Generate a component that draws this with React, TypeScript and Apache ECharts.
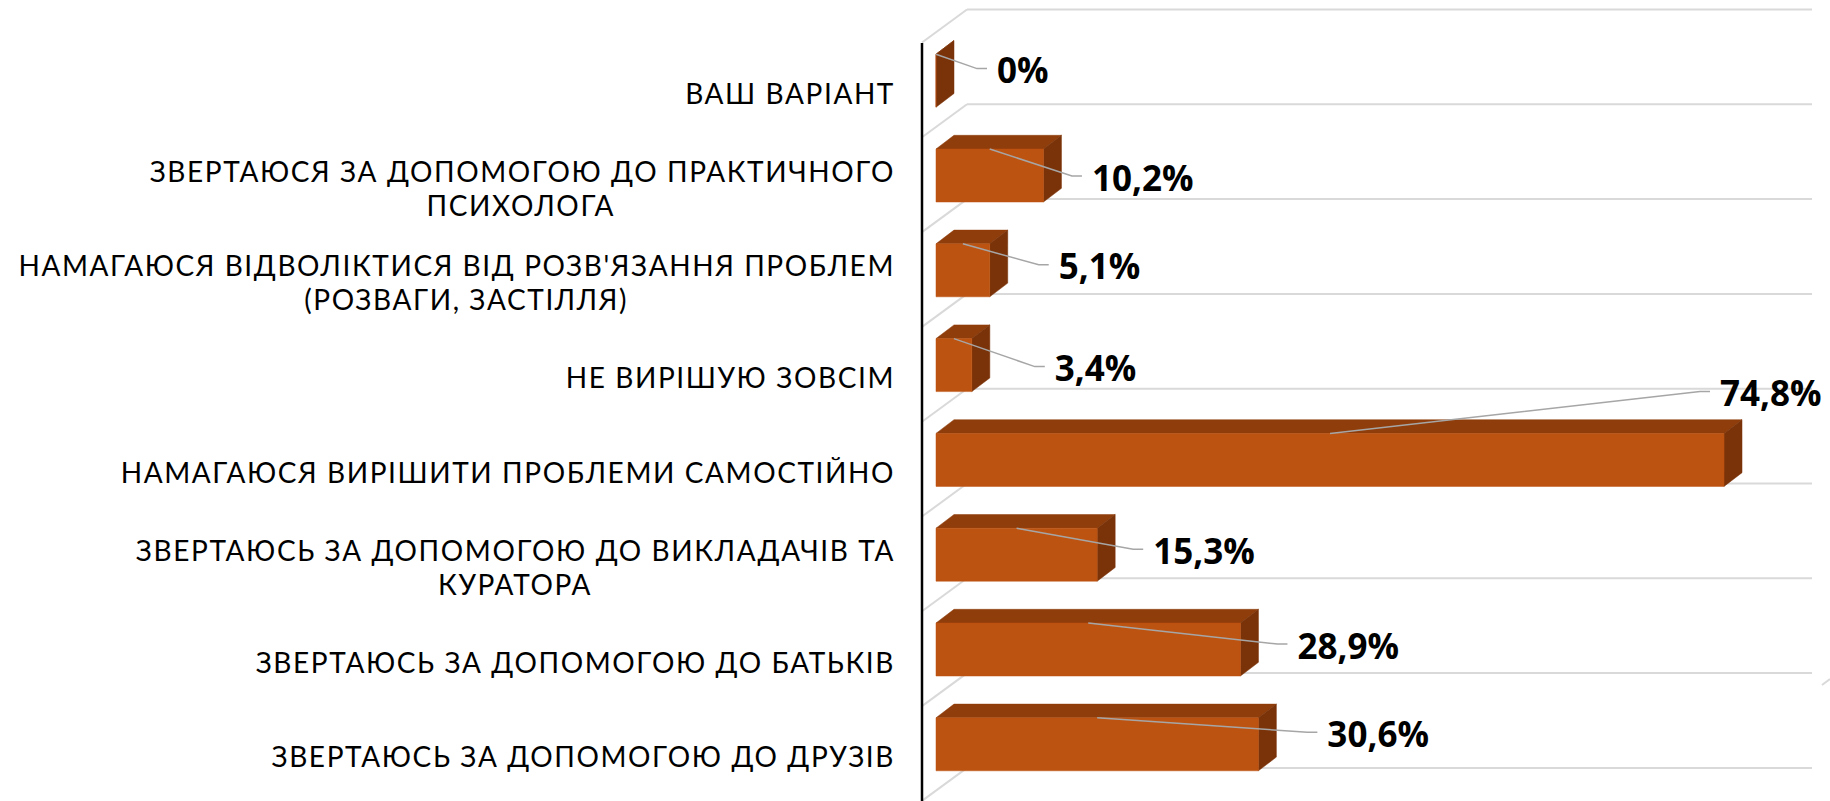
import React, { useEffect, useRef } from "react";
import * as echarts from "echarts";

const categories = [
  "ВАШ ВАРІАНТ",
  "ЗВЕРТАЮСЯ ЗА ДОПОМОГОЮ ДО ПРАКТИЧНОГО\nПСИХОЛОГА",
  "НАМАГАЮСЯ ВІДВОЛІКТИСЯ ВІД РОЗВ'ЯЗАННЯ ПРОБЛЕМ\n(РОЗВАГИ, ЗАСТІЛЛЯ)",
  "НЕ ВИРІШУЮ ЗОВСІМ",
  "НАМАГАЮСЯ ВИРІШИТИ ПРОБЛЕМИ САМОСТІЙНО",
  "ЗВЕРТАЮСЬ ЗА ДОПОМОГОЮ ДО ВИКЛАДАЧІВ ТА\nКУРАТОРА",
  "ЗВЕРТАЮСЬ ЗА ДОПОМОГОЮ ДО БАТЬКІВ",
  "ЗВЕРТАЮСЬ ЗА ДОПОМОГОЮ ДО ДРУЗІВ",
];
const values = [0, 10.2, 5.1, 3.4, 74.8, 15.3, 28.9, 30.6];
// second-line inset of each wrapped category label, so the line sits centred under the first
const secondLineInset = [0, 280, 267, 0, 0, 303, 0, 0];
// leader-line elbow relative to the bar's right end (x) and front-top edge (y)
const leaderElbow = [
  [51, 14.4], [38.5, 27], [59, 21], [73, 28], [-14, -42], [46, 21], [47, 21], [59, 14.5],
];

const FRONT = "#BD5311";
const TOP = "#8F3D0B";
const SIDE = "#7A3208";
const WALL = "#D9D9D9";
const DX = 18;
const DY = 13.7;
const BAR_H = 53;
const BAR_SHIFT = 12; // bars sit above the band centre, like a 3D chart's floor

const formatValue = (v: number) => String(v).replace(".", ",") + "%";

const renderWall = (params: any, api: any) => {
  const [x0, cy] = api.coord([0, params.dataIndex]);
  const xA = x0 - 14;
  const xB = x0 + 31;
  const xEnd = x0 + 876;
  const band = api.size([0, 1])[1];
  const rows = params.dataIndex === categories.length - 1 ? [cy, cy + band] : [cy];
  const line = (x1: number, y1: number, x2: number, y2: number, stroke: string, lineWidth: number) => ({
    type: "line",
    shape: { x1, y1, x2, y2 },
    style: { stroke, lineWidth },
  });
  const children: any[] = [];
  rows.forEach((c) => {
    children.push(line(xA, c - 50.2, xB, c - 83.2, WALL, 2));
    children.push(line(xB, c - 83.2, xEnd, c - 83.2, WALL, 2));
  });
  return { type: "group", children };
};

const renderBar = (params: any, api: any) => {
  const v = api.value(0);
  const idx = params.dataIndex;
  const [x0, cy] = api.coord([0, idx]);
  const [x1] = api.coord([v, idx]);
  const yTop = cy - BAR_SHIFT - BAR_H / 2;
  const yBot = yTop + BAR_H;
  const xMid = (x0 + x1) / 2;
  const [ex, ey] = leaderElbow[idx];
  const elbowX = x1 + ex;
  const elbowY = yTop + ey;
  const poly = (points: number[][], fill: string) => ({
    type: "polygon",
    shape: { points },
    style: { fill, stroke: fill, lineWidth: 0.5 },
  });
  return {
    type: "group",
    children: [
      poly([[x0, yTop], [x0 + DX, yTop - DY], [x1 + DX, yTop - DY], [x1, yTop]], TOP),
      poly([[x1, yTop], [x1 + DX, yTop - DY], [x1 + DX, yBot - DY], [x1, yBot]], SIDE),
      poly([[x0, yTop], [x1, yTop], [x1, yBot], [x0, yBot]], FRONT),
      {
        type: "polyline",
        shape: { points: [[xMid, yTop], [elbowX - 10, elbowY], [elbowX, elbowY]] },
        style: { stroke: "#A6A6A6", lineWidth: 1.5, fill: "none" },
      },
      {
        type: "text",
        x: elbowX + 10,
        y: elbowY + 1,
        style: {
          text: formatValue(v),
          fill: "#000000",
          font: 'bold 35px "Open Sans"',
          textAlign: "left",
          textVerticalAlign: "middle",
        },
      },
    ],
  };
};

export default function App() {
  const ref = useRef<HTMLDivElement>(null);
  useEffect(() => {
    const chart = echarts.init(ref.current!, undefined, { renderer: "svg" });
    const rows = values.map((v, i) => [v, i]);
    const rich: any = {
      a: { fontFamily: "Lato", fontSize: 28, color: "#000", lineHeight: 34, align: "right" },
    };
    secondLineInset.forEach((inset, i) => {
      if (inset) {
        rich["b" + i] = { ...rich.a, padding: [0, inset, 0, 0] };
      }
    });
    chart.setOption({
      animation: false,
      backgroundColor: "#FFFFFF",
      grid: { left: 936, top: 45.3, width: 842.8, height: 758.4, containLabel: false, outerBoundsMode: "none" },
      xAxis: { type: "value", min: 0, max: 80, show: false },
      yAxis: {
        type: "category",
        inverse: true,
        data: categories,
        axisLine: { show: false },
        axisTick: { show: false },
        splitLine: { show: false },
        axisLabel: {
          interval: 0,
          margin: 41,
          align: "right",
          color: "#000",
          formatter: (value: string, i: number) => {
            const [first, second] = value.split("\n");
            return second ? `{a|${first}}\n{b${i}|${second}}` : `{a|${first}}`;
          },
          rich,
        },
      },
      series: [
        {
          type: "custom",
          silent: true,
          z: 1,
          renderItem: renderWall,
          encode: { x: 0, y: 1 },
          data: rows,
          clip: false,
        },
        {
          type: "custom",
          silent: true,
          z: 2,
          renderItem: renderBar,
          encode: { x: 0, y: 1 },
          data: rows,
          clip: false,
        },
      ],
      graphic: [
        { type: "line", z: 5, shape: { x1: 922, y1: 43, x2: 922, y2: 801 }, style: { stroke: "#000", lineWidth: 2.5 } },
        { type: "line", z: 0, shape: { x1: 1822, y1: 685, x2: 1830, y2: 679 }, style: { stroke: WALL, lineWidth: 2 } },
      ],
    });
    return () => chart.dispose();
  }, []);
  return (
    <>
      <style>{`svg text[style*="Lato"]{letter-spacing:1.6px}`}</style>
      <div ref={ref} style={{ position: "absolute", left: 0, top: 0, width: 1830, height: 801 }} />
    </>
  );
}
